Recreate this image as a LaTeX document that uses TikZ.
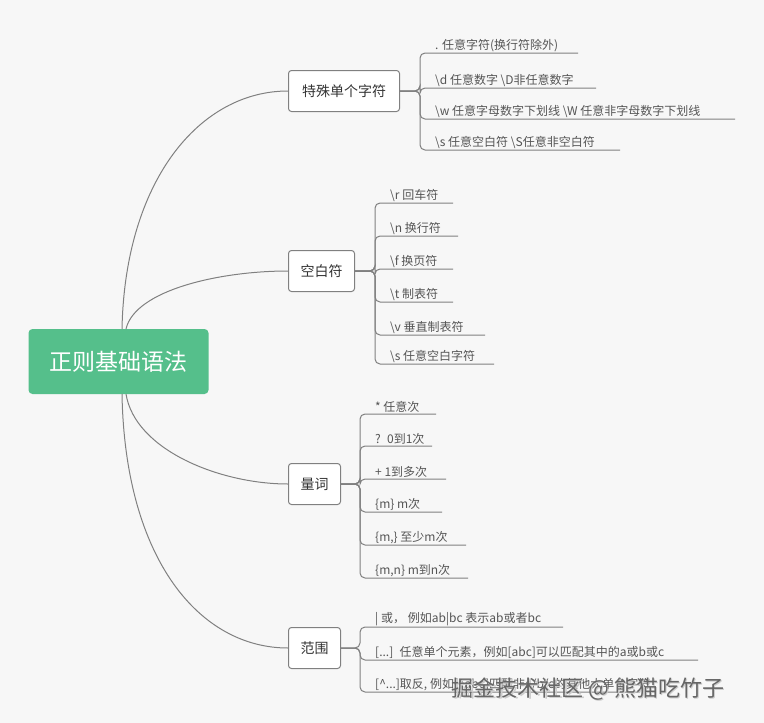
\documentclass[tikz,border=0pt]{standalone}
\usepackage{fontspec}
\setmainfont{Noto Sans CJK SC}
\definecolor{ln}{HTML}{808080}
\definecolor{tx}{HTML}{555555}
\definecolor{rootg}{HTML}{55BF8B}
\begin{document}
\begin{tikzpicture}[x=1pt,y=-1pt,
  br/.style={draw=ln,line width=1pt,rounded corners=3pt,fill=white,text=black!80,font=\fontsize{14}{16}\selectfont,inner sep=0pt,minimum height=41pt,anchor=west},
  leaf/.style={text=tx,font=\fontsize{12}{14}\selectfont,anchor=south west,inner sep=1pt},
  con/.style={draw=ln,line width=1pt,rounded corners=5pt}]
\fill[white!97!black] (0,0) rectangle (764,723);
\useasboundingbox (0,0) rectangle (764,723);
\node[fill=rootg,rounded corners=4pt,text=white,font=\fontsize{23}{27}\selectfont,minimum width=180pt,minimum height=65pt,inner sep=0pt] (root) at (118.5,361.5) {正则基础语法};
\node[br,minimum width=111pt] (b1) at (288,91) {特殊单个字符};
\node[br,minimum width=66pt] (b2) at (288,271) {空白符};
\node[br,minimum width=52pt] (b3) at (288,484) {量词};
\node[br,minimum width=52pt] (b4) at (288,648) {范围};
\draw[ln,line width=1pt] (122,329) .. controls (125,180) and (200,91) .. (b1.west);
\draw[ln,line width=1pt] (126,329) .. controls (135,290) and (220,271) .. (b2.west);
\draw[ln,line width=1pt] (126,394) .. controls (135,450) and (220,484) .. (b3.west);
\draw[ln,line width=1pt] (122,394) .. controls (125,560) and (200,648) .. (b4.west);
\foreach \i/\y/\e/\t in {1/53/578/{. 任意字符(换行符除外)},2/88/596/{\textbackslash d 任意数字 \textbackslash D非任意数字},3/119/735/{\textbackslash w 任意字母数字下划线 \textbackslash W 任意非字母数字下划线},4/150/620/{\textbackslash s 任意空白符 \textbackslash S任意非空白符}}{
  \coordinate (a\i) at (\e,\y);
  \node[leaf] (la\i) at (434,\y) {\t};
  \draw[con] (b1.east) -- (420,91) -- (420,\y) -- (a\i);
}
\foreach \i/\y/\e/\t in {1/203/453/{\textbackslash r 回车符},2/236/458/{\textbackslash n 换行符},3/269/453/{\textbackslash f 换页符},4/302/453/{\textbackslash t 制表符},5/335/485/{\textbackslash v 垂直制表符},6/364/494/{\textbackslash s 任意空白字符}}{
  \coordinate (c\i) at (\e,\y);
  \node[leaf] (lc\i) at (389,\y) {\t};
  \draw[con] (b2.east) -- (375,271) -- (375,\y) -- (c\i);
}
\foreach \i/\y/\e/\t in {1/414/436/{* 任意次},2/446/432/{?~ 0到1次},3/479/446/{+ 1到多次},4/512/442/{\{m\} m次},5/545/466/{\{m,\} 至少m次},6/578/468/{\{m,n\} m到n次}}{
  \coordinate (d\i) at (\e,\y);
  \node[leaf] (ld\i) at (374,\y) {\t};
  \draw[con] (b3.east) -- (360,484) -- (360,\y) -- (d\i);
}
\foreach \i/\y/\e/\t in {1/627/563/{| 或， 例如ab|bc 表示ab或者bc},2/660/698/{[...]~ 任意单个元素，例如[abc]可以匹配其中的a或b或c},3/692/640/{[\^{}...]取反, 例如[\^{}abc]匹配非a/b/c的其他大单个字符}}{
  \coordinate (e\i) at (\e,\y);
  \node[leaf] (le\i) at (374,\y) {\t};
  \draw[con] (b4.east) -- (360,648) -- (360,\y) -- (e\i);
}
\node[text=black!20,font=\fontsize{22}{26}\selectfont,anchor=west] (wm2) at (449.5,690.5) {掘金技术社区 @ 熊猫吃竹子};
\node[text=black!60,font=\fontsize{22}{26}\selectfont,anchor=west] (wm) at (448,689) {掘金技术社区 @ 熊猫吃竹子};
\end{tikzpicture}
\end{document}
